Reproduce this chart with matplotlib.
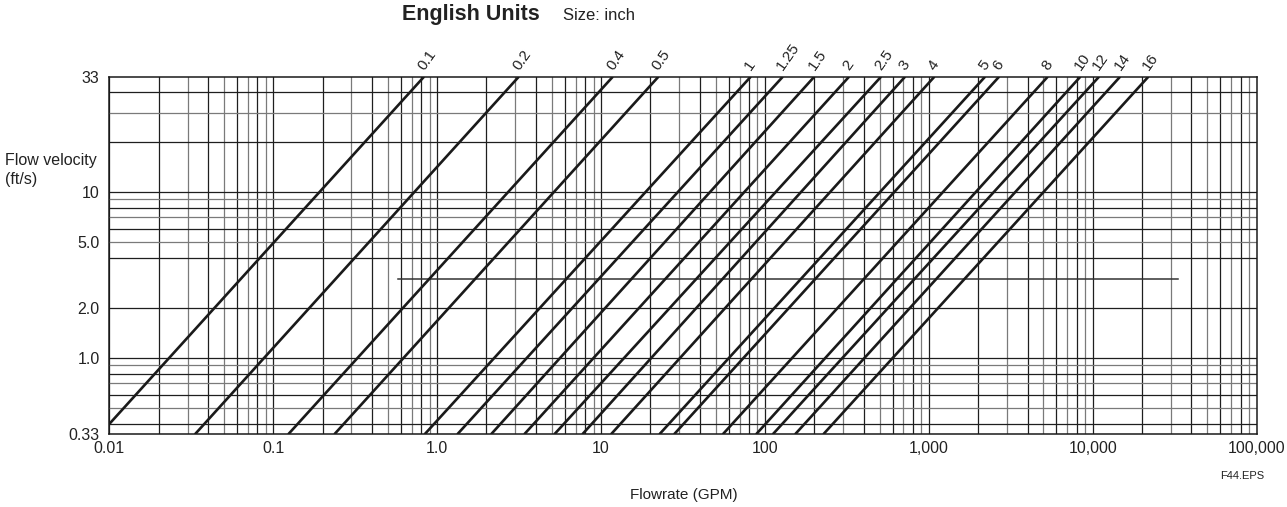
import matplotlib
matplotlib.use("Agg")
import matplotlib.pyplot as plt

plt.rcParams['font.family'] = ['Liberation Sans', 'DejaVu Sans']

# pipe sizes (inch) and the flowrate (GPM) where each line meets the top / bottom edge
sizes = ['0.1', '0.2', '0.4', '0.5', '1', '1.25', '1.5', '2', '2.5', '3',
         '4', '5', '6', '8', '10', '12', '14', '16']
q_top = [0.832, 3.15, 11.8, 22.4, 81.9, 128.5, 200, 326, 511, 716,
         1081, 2203, 2682, 5312, 8400, 10920, 14680, 21840]
q_bottom = [0.00877, 0.0333, 0.1235, 0.236, 0.839, 1.328, 2.133, 3.40, 5.19, 7.69,
            11.5, 22.7, 27.9, 55.3, 88.3, 111.6, 152.7, 227]

# velocity at the bottom / top edge of the frame (ft/s)
v_min, v_max = 0.346, 49.3

x_ticks = [0.01, 0.1, 1, 10, 100, 1000, 10000, 100000]
x_labels = ['0.01', '0.1', '1.0', '10', '100', '1,000', '10,000', '100,000']
y_ticks = [v_min, 1, 2, 5, 10, v_max]
y_labels = ['0.33', '1.0', '2.0', '5.0', '10', '33']

h_grid = [0.4, 0.5, 0.6, 0.7, 0.8, 0.9, 1, 2, 4, 5, 6, 7, 8, 9, 10, 20, 30, 40]
h_partial = 3
h_partial_span = [0.58, 33000]

W, H = 1287, 507
fig = plt.figure(figsize=(W / 100, H / 100), dpi=100)
ax = fig.add_axes([109.3 / W, 1 - 434.3 / H, 1147.4 / W, 357.6 / H])
ax.set_xscale('log')
ax.set_yscale('log')
ax.set_xlim(x_ticks[0], x_ticks[-1])
ax.set_ylim(v_min, v_max)

dark, grey = '#1e1e1e', '#7a7a7a'

# vertical grid, 1..9 in every decade
for e in range(-2, 5):
    for k in range(1, 10):
        x = k * 10.0 ** e
        c = grey if k % 2 == 1 and k != 1 else dark
        ax.axvline(x, color=c, lw=0.9, zorder=1)

for v in h_grid:
    lead = int(round(v / 10 ** int(f"{v:e}".split('e')[1])))
    c = grey if lead % 2 == 1 and lead != 1 else dark
    ax.axhline(v, color=c, lw=0.9, zorder=1)
ax.plot(h_partial_span, [h_partial, h_partial], color='#333333', lw=1.1, zorder=1)

for s, qt, qb in zip(sizes, q_top, q_bottom):
    ax.plot([qb, qt], [v_min, v_max], color='#1a1a1a', lw=1.9, zorder=3,
            solid_capstyle='butt')
    ax.annotate(s, xy=(qt, v_max), xytext=(2, 3), textcoords='offset points',
                rotation=55, rotation_mode='anchor', ha='left', va='bottom',
                fontsize=11, color='#222222', annotation_clip=False)

ax.minorticks_off()
ax.set_xticks(x_ticks)
ax.set_xticklabels(x_labels)
ax.set_yticks(y_ticks)
ax.set_yticklabels(y_labels)
ax.tick_params(axis='both', length=0, labelsize=11.5, colors='#222222')
ax.tick_params(axis='x', pad=5)
ax.tick_params(axis='y', pad=7)
for sp in ax.spines.values():
    sp.set_color('#1a1a1a')
    sp.set_linewidth(1.1)

fig.text(401.7 / W, 1 - 20 / H, 'English Units', fontsize=15.5, fontweight='bold',
         va='baseline', color='#222222')
fig.text(562.7 / W, 1 - 20 / H, 'Size: inch', fontsize=12, va='baseline',
         color='#222222')
fig.text(5 / W, 1 - 170 / H, 'Flow velocity\n(ft/s)', fontsize=11.5, va='center',
         ha='left', linespacing=1.3, color='#222222')
fig.text(684 / W, 1 - 495 / H, 'Flowrate (GPM)', fontsize=11, ha='center',
         va='center', color='#222222')
fig.text(1220 / W, 1 - 476 / H, 'F44.EPS', fontsize=8, ha='left', va='center',
         color='#222222')

fig.savefig('out.png', dpi=100)
